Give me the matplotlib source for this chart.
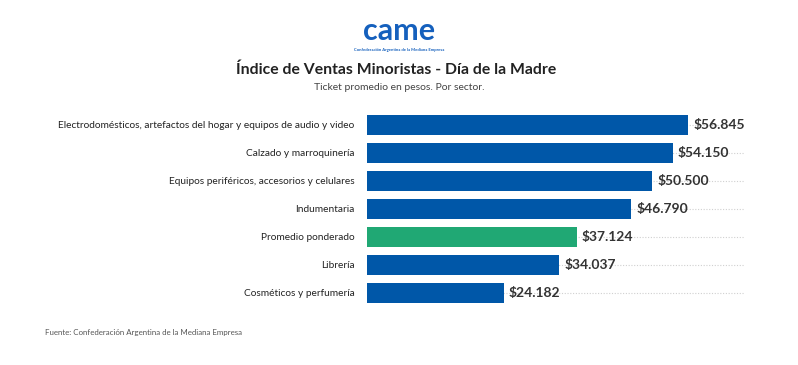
import matplotlib
matplotlib.use("Agg")
import matplotlib.pyplot as plt

## data
sectors = [
    "Electrodomésticos, artefactos del hogar y equipos de audio y video",
    "Calzado y marroquinería",
    "Equipos periféricos, accesorios y celulares",
    "Indumentaria",
    "Promedio ponderado",
    "Librería",
    "Cosméticos y perfumería",
]
ticket = [56845, 54150, 50500, 46790, 37124, 34037, 24182]
labels = ["$56.845", "$54.150", "$50.500", "$46.790", "$37.124", "$34.037", "$24.182"]

blue = "#0057a8"
green = "#20a874"
colors = [green if s == "Promedio ponderado" else blue for s in sectors]

plt.rcParams['font.family'] = ['Lato', 'DejaVu Sans']

fig = plt.figure(figsize=(7.98, 3.65), dpi=100)
ax = fig.add_axes([0.46, 0.159, 0.474, 0.537])

ypos = list(range(len(sectors)))
for y in ypos:
    ax.plot([0, 67000], [y, y], color="#d0d0d0", lw=0.8, ls=(0, (1, 1.5)), zorder=0)
ax.barh(ypos, ticket, height=0.72, color=colors, zorder=2)

for y, v, lab in zip(ypos, ticket, labels):
    ax.text(v + 900, y, lab, va="center", ha="left", fontsize=10,
            fontweight="bold", color="#333333")

ax.set_yticks(ypos)
ax.set_yticklabels(sectors, fontsize=7.3, color="#222222")
ax.tick_params(axis="y", length=0, pad=9)
ax.set_xticks([])
ax.set_xlim(0, 67000)
ax.set_ylim(len(sectors) - 0.5, -0.5)
for sp in ax.spines.values():
    sp.set_visible(False)

## logo + titles
fig.text(0.5, 0.915, "came", ha="center", va="center", fontsize=22,
         fontweight="bold", color="#1560bd")
fig.text(0.5, 0.862, "Confederación Argentina de la Mediana Empresa", ha="center",
         va="center", fontsize=3, fontweight="bold", color="#1560bd")
fig.text(0.497, 0.808, "Índice de Ventas Minoristas - Día de la Madre", ha="center",
         va="center", fontsize=11.3, fontweight="bold", color="#222222")
fig.text(0.5, 0.76, "Ticket promedio en pesos. Por sector.", ha="center",
         va="center", fontsize=7.5, color="#444444")
fig.text(0.057, 0.088, "Fuente: Confederación Argentina de la Mediana Empresa",
         ha="left", va="center", fontsize=5.7, color="#555555")

fig.savefig("out.png", dpi=100, facecolor="white")
